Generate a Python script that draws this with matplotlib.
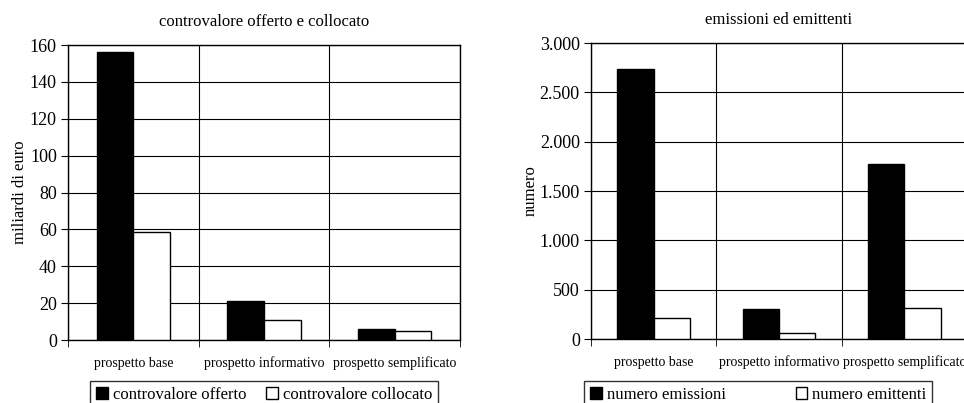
import matplotlib.pyplot as plt
import matplotlib.ticker as mticker
import numpy as np

# Data
categories = ["prospetto base", "prospetto informativo", "prospetto semplificato"]
offerto = [156, 21.3, 5.8]
collocato = [58.5, 10.8, 5.0]
emissioni = [2740, 300, 1770]
emittenti = [216, 64, 317]

plt.rcParams["font.family"] = ["Liberation Serif", "DejaVu Serif"]

fig = plt.figure(figsize=(9.64, 4.03), dpi=100)
ax1 = fig.add_axes([0.0705, 0.1563, 0.4066, 0.732])
ax2 = fig.add_axes([0.613, 0.1588, 0.390, 0.7345])


def draw(ax, a, b, width, ylim, ystep, title, ylabel, names, fmt, legend_x, colsp):
    x = np.arange(len(categories))
    ax.bar(x - width / 2, a, width, color="black", edgecolor="black", lw=1, label=names[0], zorder=3)
    ax.bar(x + width / 2, b, width, color="white", edgecolor="black", lw=1, label=names[1], zorder=3)
    ax.set_xlim(-0.5, len(categories) - 0.5)
    ax.set_ylim(0, ylim)
    ax.set_yticks(np.arange(0, ylim + 1, ystep))
    ax.yaxis.set_major_formatter(mticker.FuncFormatter(fmt))
    ax.set_xticks(x)
    ax.set_xticklabels(categories, fontsize=10)
    ax.set_xticks(np.arange(-0.5, len(categories)), minor=True)
    ax.tick_params(axis="x", which="major", length=0, pad=12)
    ax.tick_params(axis="x", which="minor", length=5, direction="out", color="black")
    ax.tick_params(axis="y", length=5, direction="out", labelsize=13, pad=3)
    ax.grid(axis="y", which="major", color="black", lw=0.8, zorder=0)
    ax.grid(axis="x", which="minor", color="black", lw=0.8, zorder=0)
    for s in ax.spines.values():
        s.set_color("black")
        s.set_linewidth(1)
    ax.set_title(title, fontsize=12, pad=14)
    ax.set_ylabel(ylabel, fontsize=12, labelpad=1)
    fig.legend(handles=ax.get_legend_handles_labels()[0], labels=names,
               loc="upper center", bbox_to_anchor=(legend_x, 1 - 381 / 403), ncol=2,
               fontsize=12, frameon=True, fancybox=False, edgecolor="black",
               handlelength=0.7, handleheight=0.7, handletextpad=0.3,
               columnspacing=colsp, borderpad=0.35, borderaxespad=0)


draw(ax1, offerto, collocato, 0.28, 160, 20, "controvalore offerto e collocato",
     "miliardi di euro", ["controvalore offerto", "controvalore collocato"],
     lambda v, p: f"{int(v)}", 0.274, 1.2)
draw(ax2, emissioni, emittenti, 0.29, 3000, 500, "emissioni ed emittenti",
     "numero", ["numero emissioni", "numero emittenti"],
     lambda v, p: f"{int(v):,}".replace(",", "."), 0.7865, 4.2)

fig.savefig("out.png", dpi=100)
